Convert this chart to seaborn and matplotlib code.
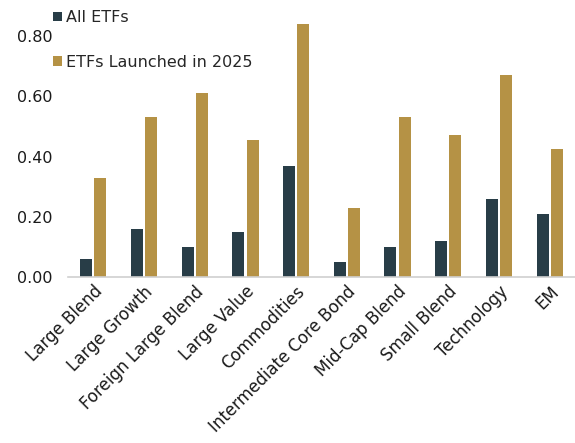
import seaborn as sns
import pandas as pd
import matplotlib.pyplot as plt
from matplotlib.ticker import FormatStrFormatter

categories = ['Large Blend', 'Large Growth', 'Foreign Large Blend', 'Large Value',
              'Commodities', 'Intermediate Core Bond', 'Mid-Cap Blend', 'Small Blend',
              'Technology', 'EM']
all_etfs = [0.06, 0.16, 0.10, 0.15, 0.37, 0.05, 0.10, 0.12, 0.26, 0.21]
launched_2025 = [0.33, 0.53, 0.61, 0.455, 0.84, 0.23, 0.53, 0.47, 0.67, 0.425]
series_names = ['All ETFs', 'ETFs Launched in 2025']
colors = ['#283D47', '#B59245']

df = pd.DataFrame({
    'Category': categories * 2,
    'Value': all_etfs + launched_2025,
    'Series': [series_names[0]] * len(categories) + [series_names[1]] * len(categories),
})

sns.set_style('white')
plt.rcParams['font.family'] = ['DejaVu Sans']

fig = plt.figure(figsize=(5.75, 4.43), dpi=100)
ax = fig.add_axes([68 / 575, 1 - 277 / 443, 507 / 575, 271 / 443])
sns.barplot(df, x='Category', y='Value', hue='Series', palette=colors,
            saturation=1, width=0.56, gap=0.16, linewidth=0, ax=ax)

ax.set_xlim(-0.5, 9.5)
ax.set_ylim(0, 0.9)
ax.set_yticks([0, 0.2, 0.4, 0.6, 0.8])
ax.yaxis.set_major_formatter(FormatStrFormatter('%.2f'))
ax.set_xlabel('')
ax.set_ylabel('')
for s in ['left', 'top', 'right']:
    ax.spines[s].set_visible(False)
ax.spines['bottom'].set_color('#D0D0D0')
ax.spines['bottom'].set_linewidth(1.2)
ax.tick_params(axis='both', length=0, colors='#1a1a1a')
ax.tick_params(axis='y', pad=11, labelsize=11.5)
ax.tick_params(axis='x', pad=4, labelsize=12)
plt.setp(ax.get_xticklabels(), rotation=45, ha='right', rotation_mode='anchor')

ax.legend(loc='upper left', bbox_to_anchor=(0.078, 0.995), bbox_transform=fig.transFigure,
          frameon=False, fontsize=11.5, handlelength=0.55, handleheight=0.55,
          handletextpad=0.25, labelspacing=1.85, borderpad=0)

fig.savefig('out.png', dpi=100)
